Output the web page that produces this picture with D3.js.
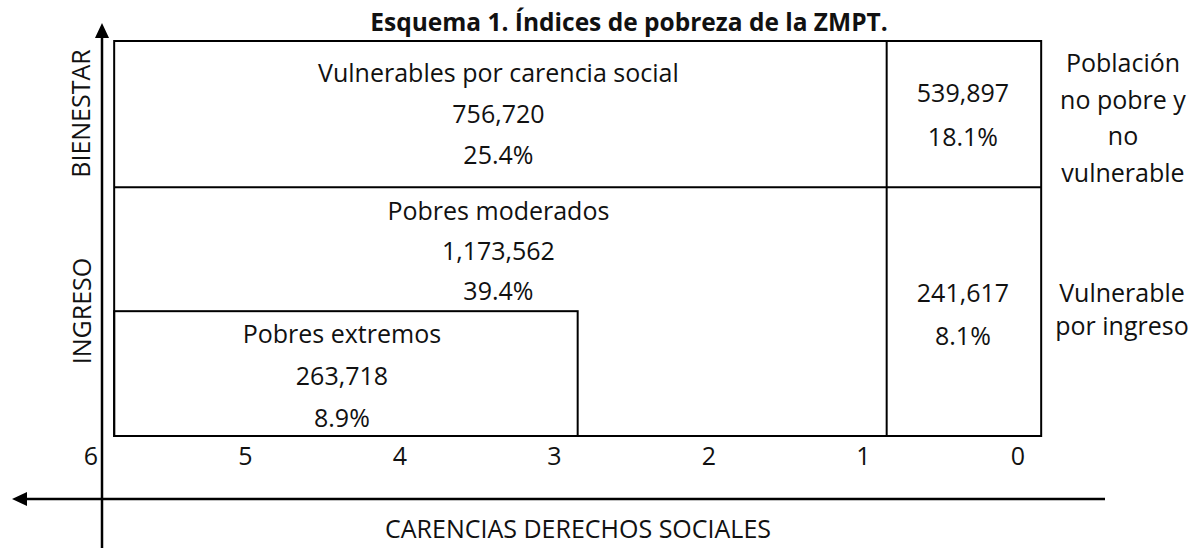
<!DOCTYPE html>
<html>
<head>
<meta charset="utf-8">
<script src="https://cdn.jsdelivr.net/npm/d3@7"></script>
<style>
  html, body { margin: 0; padding: 0; background: #fff; }
  svg text { font-family: "Open Sans", Lato, sans-serif; fill: #111; }
</style>
</head>
<body>
<svg id="chart" width="1197" height="548"></svg>
<script>
// ---- data ----
const title = "Esquema 1. Índices de pobreza de la ZMPT.";
const groups = ["Vulnerables por carencia social", "Pobres moderados", "Pobres extremos", "Vulnerable por ingreso", "Población no pobre y no vulnerable"];
const population = [756720, 1173562, 263718, 241617, 539897];
const percent = [25.4, 39.4, 8.9, 8.1, 18.1];
const xTicks = [6, 5, 4, 3, 2, 1, 0];
const xAxisTitle = "CARENCIAS DERECHOS SOCIALES";
const yAxisTitles = ["BIENESTAR", "INGRESO"];
const sideLabels = [["Población", "no pobre y", "no", "vulnerable"], ["Vulnerable", "por ingreso"]];

// ---- scales ----
const W = 1197, H = 548;
const x = d3.scaleLinear().domain([6, 0]).range([91, 1018]);
const y = d3.scaleLinear().domain([0, 1]).range([436, 41]);
// region limits in scale units
const cLeft = 5.85, cExtreme = 2.85, cOne = 0.85, cRight = -0.15;
const yBottom = 0, yExtreme = 0.316, yWelfare = 0.63, yTop = 1;

const svg = d3.select("#chart");
const fmt = d3.format(",");
const pct = v => v.toFixed(1) + "%";

// title
svg.append("text").attr("x", 629).attr("y", 31).attr("text-anchor", "middle")
  .attr("font-weight", "bold").attr("font-size", 24.5).text(title);

// vertical axis
svg.append("line").attr("x1", 102).attr("x2", 102).attr("y1", 36).attr("y2", H)
  .attr("stroke", "#000").attr("stroke-width", 2.5);
svg.append("path").attr("d", "M102,23 L95,38 L109,38 Z").attr("fill", "#000");
// horizontal axis
svg.append("line").attr("x1", 25).attr("x2", 1105).attr("y1", 499).attr("y2", 499)
  .attr("stroke", "#000").attr("stroke-width", 2.5);
svg.append("path").attr("d", "M12,499 L27,492 L27,506 Z").attr("fill", "#000");

// boxes
const lines = svg.append("g").attr("stroke", "#000").attr("stroke-width", 2).attr("fill", "none");
lines.append("rect").attr("x", x(cLeft)).attr("y", y(yTop))
  .attr("width", x(cRight) - x(cLeft)).attr("height", y(yBottom) - y(yTop));
lines.append("line").attr("x1", x(cLeft)).attr("x2", x(cRight)).attr("y1", y(yWelfare)).attr("y2", y(yWelfare));
lines.append("line").attr("x1", x(cOne)).attr("x2", x(cOne)).attr("y1", y(yTop)).attr("y2", y(yBottom));
lines.append("rect").attr("x", x(cLeft)).attr("y", y(yExtreme))
  .attr("width", x(cExtreme) - x(cLeft)).attr("height", y(yBottom) - y(yExtreme));

// region labels
const fs = 25;
function block(cx, top, rows, gap) {
  rows.forEach((r, i) => {
    svg.append("text").attr("x", cx).attr("y", top + i * gap)
      .attr("text-anchor", "middle").attr("font-size", fs).text(r);
  });
}
const cMain = (x(cLeft) + x(cOne)) / 2;
const cExt = (x(cLeft) + x(cExtreme)) / 2 - 4;
const cRightCol = (x(cOne) + x(cRight)) / 2 - 1;
block(cMain - 2, y(yTop) + 41, [groups[0], fmt(population[0]), pct(percent[0])], 41);
block(cMain - 2, y(yWelfare) + 33, [groups[1], fmt(population[1]), pct(percent[1])], 40);
block(cExt, y(yExtreme) + 32, [groups[2], fmt(population[2]), pct(percent[2])], 42);
block(cRightCol, y(yTop) + 61, [fmt(population[4]), pct(percent[4])], 44);
block(cRightCol, y(yExtreme) - 9, [fmt(population[3]), pct(percent[3])], 43);

// side labels
block(1123, 72, sideLabels[0], 36.5);
block(1122, 302, sideLabels[1], 33);

// tick labels
svg.append("g").selectAll("text").data(xTicks).join("text")
  .attr("x", d => x(d)).attr("y", 465).attr("text-anchor", "middle")
  .attr("font-size", fs).text(d => d);

// axis titles
svg.append("text").attr("x", 578).attr("y", 538).attr("text-anchor", "middle")
  .attr("font-size", fs).text(xAxisTitle);
svg.append("text").attr("transform", "translate(90,113.5) rotate(-90)")
  .attr("text-anchor", "middle").attr("font-size", fs).text(yAxisTitles[0]);
svg.append("text").attr("transform", "translate(91,311) rotate(-90)")
  .attr("text-anchor", "middle").attr("font-size", fs).text(yAxisTitles[1]);
</script>
</body>
</html>
